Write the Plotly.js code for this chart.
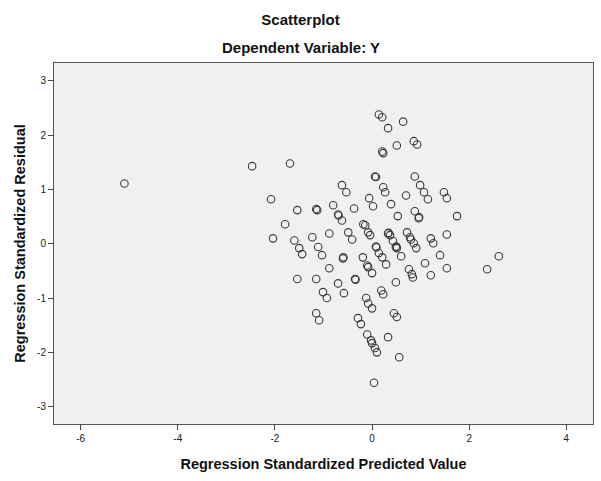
<!DOCTYPE html>
<html>
<head>
<meta charset="utf-8">
<script src="https://cdn.plot.ly/plotly-3.0.1.min.js"></script>
<style>html,body{margin:0;padding:0;background:#fff;}#chart{width:601px;height:481px;}</style>
</head>
<body>
<div id="chart"></div>
<script>
// Regression standardized predicted values (x) and residuals (y)
const predX = [
  -5.10, -2.47, -1.69, -2.08, -2.04, -1.79, -1.54, -1.60, -1.50, -1.44,
  -1.54, -1.23, -1.15, -1.13, -1.11, -1.03, -1.15, -1.01, -0.93, -1.15,
  -1.09, -0.88, -0.80, -0.62, -0.53, -0.70, -0.69, -0.62, -0.88, -0.60,
  -0.59, -0.49, -0.41, -0.70, -0.58, -0.35, -0.34, -0.37, -0.29, -0.23,
  -0.19, -0.18, -0.14, -0.08, -0.04, -0.06, 0.02, 0.06, 0.08, -0.10,
  -0.08, 0.00, -0.12, -0.08, 0.00, -0.10, -0.02, 0.00, 0.06, 0.10,
  0.04, 0.08, 0.09, 0.14, 0.21, 0.19, 0.23, 0.14, 0.21, 0.33,
  0.64, 0.51, 0.86, 0.93, 0.21, 0.23, 0.88, 0.99, 0.23, 0.27,
  0.70, 1.07, 1.15, 1.48, 1.54, 0.39, 0.53, 0.88, 0.97, 0.96,
  1.75, 0.33, 0.34, 0.37, 0.43, 0.49, 0.50, 0.51, 0.72, 0.78,
  0.80, 0.86, 0.91, 1.21, 1.26, 1.54, 0.60, 0.29, 1.09, 1.40,
  0.76, 0.82, 0.84, 1.21, 1.54, 2.61, 2.37, 0.49, 0.45, 0.51,
  0.33, 0.56
];
const residY = [
  1.11, 1.43, 1.48, 0.82, 0.10, 0.36, 0.62, 0.06, -0.08, -0.19,
  -0.65, 0.12, 0.64, 0.62, -0.06, -0.21, -0.65, -0.89, -1.00, -1.28,
  -1.41, 0.19, 0.71, 1.08, 0.95, 0.54, 0.52, 0.43, -0.45, -0.27,
  -0.25, 0.21, 0.08, -0.73, -0.91, -0.65, -0.66, 0.65, -1.37, -1.48,
  -0.25, 0.36, 0.34, 0.21, 0.16, 0.84, 0.69, 1.24, 1.23, -0.40,
  -0.43, -0.54, -1.00, -1.10, -1.19, -1.67, -1.78, -1.83, -1.92, -2.00,
  -2.56, -0.05, -0.07, -0.17, -0.25, -0.86, -0.93, 2.38, 2.33, 2.13,
  2.25, 1.81, 1.89, 1.83, 1.70, 1.67, 1.24, 1.08, 1.04, 0.95,
  0.89, 0.95, 0.82, 0.95, 0.84, 0.73, 0.51, 0.60, 0.49, 0.47,
  0.51, 0.19, 0.20, 0.16, 0.05, -0.06, -0.05, -0.08, 0.21, 0.12,
  0.08, 0.01, -0.08, 0.10, 0.01, 0.17, -0.23, -0.38, -0.36, -0.21,
  -0.47, -0.56, -0.62, -0.58, -0.45, -0.23, -0.47, -0.71, -1.28, -1.35,
  -1.72, -2.09
];
const xTicks = [-6, -4, -2, 0, 2, 4];
const yTicks = [-3, -2, -1, 0, 1, 2, 3];

const FONT = 'Liberation Sans, Arial, sans-serif';

const trace = {
  type: 'scatter',
  mode: 'markers',
  x: predX,
  y: residY,
  marker: {
    symbol: 'circle-open',
    size: 7.5,
    color: '#3a3a3a',
    line: {width: 1.1, color: '#3a3a3a'}
  },
  hoverinfo: 'x+y'
};

const layout = {
  width: 601,
  height: 481,
  paper_bgcolor: '#ffffff',
  plot_bgcolor: '#f0f0f0',
  margin: {l: 54, r: 8, t: 63, b: 57},
  showlegend: false,
  font: {family: FONT, color: '#000'},
  title: {
    text: '<b>Scatterplot</b>',
    font: {family: FONT, size: 15, color: '#111'},
    x: 0.5, xref: 'container', xanchor: 'center',
    y: 1 - 20/481, yref: 'container', yanchor: 'middle'
  },
  annotations: [{
    text: '<b>Dependent Variable: Y</b>',
    xref: 'paper', yref: 'paper',
    x: (300.5 - 54) / 539, y: (424 - 48) / 361,
    xanchor: 'center', yanchor: 'middle',
    showarrow: false,
    font: {family: FONT, size: 15, color: '#111'}
  }],
  xaxis: {
    range: [-6.55, 4.55],
    tickvals: xTicks,
    ticktext: xTicks.map(String),
    ticks: 'outside', ticklen: 5, tickwidth: 1, tickcolor: '#444',
    tickfont: {family: FONT, size: 10, color: '#222'},
    showgrid: false, zeroline: false,
    showline: true, mirror: true, linecolor: '#555', linewidth: 1,
    title: {
      text: '<b>Regression Standardized Predicted Value</b>',
      font: {family: FONT, size: 14.5, color: '#111'},
      standoff: 15
    }
  },
  yaxis: {
    range: [-3.32, 3.33],
    tickvals: yTicks,
    ticktext: yTicks.map(String),
    ticks: 'outside', ticklen: 5, tickwidth: 1, tickcolor: '#444',
    tickfont: {family: FONT, size: 10, color: '#222'},
    showgrid: false, zeroline: false,
    showline: true, mirror: true, linecolor: '#555', linewidth: 1,
    title: {
      text: '<b>Regression Standardized Residual</b>',
      font: {family: FONT, size: 14.5, color: '#111'},
      standoff: 8
    }
  }
};

Plotly.newPlot('chart', [trace], layout, {displayModeBar: false, staticPlot: true});
</script>
</body>
</html>
